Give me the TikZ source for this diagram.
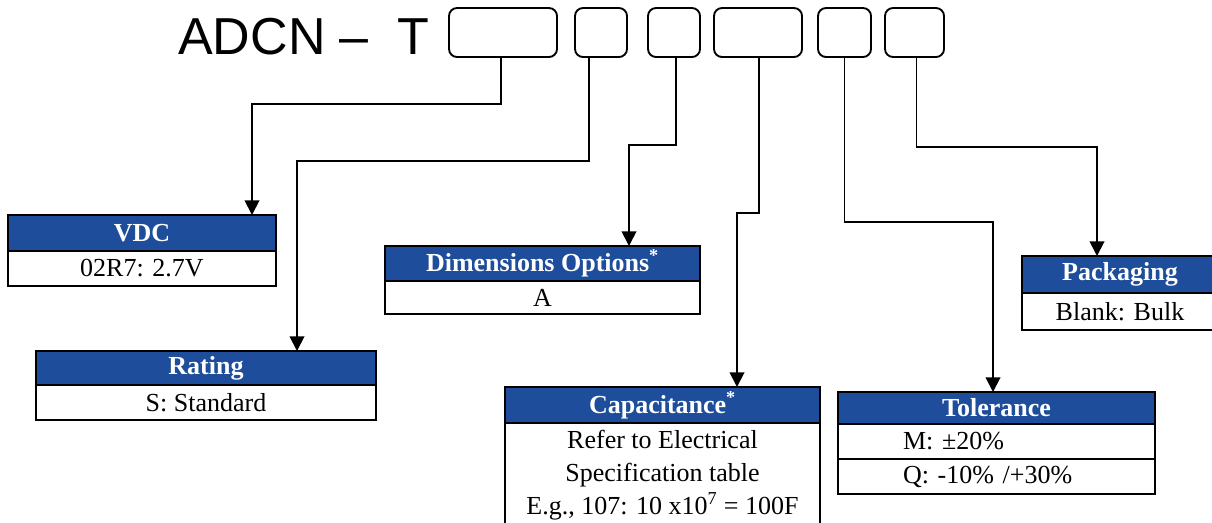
\documentclass[tikz,border=0pt]{standalone}
\usepackage{fontspec}
\setmainfont{Liberation Serif}
\setsansfont{Liberation Sans}
\usepackage{tikz}
\usetikzlibrary{arrows.meta}

\definecolor{hdrblue}{RGB}{30,78,155}

\tikzset{
    slot/.style={draw, line width=1.4pt, rounded corners=6pt, inner sep=0pt, outer sep=0pt},
    hdr/.style={draw, line width=2.1pt, fill=hdrblue, text=white, inner sep=0pt, outer sep=0pt,
        font=\fontsize{19.5}{24}\selectfont\bfseries},
    cell/.style={draw, line width=2.1pt, fill=white, inner sep=0pt, outer sep=0pt,
        font=\fontsize{19.5}{24.75}\selectfont},
    link/.style={line width=1.4pt, -{Triangle[length=11pt,width=11pt]}},
}

\begin{document}
\begin{tikzpicture}[x=0.75pt,y=0.75pt,yscale=-1,xscale=1]
    \useasboundingbox (0,0) rectangle (1212,522);
    % Text Node
    \node [anchor=base west, inner sep=0pt, font=\fontsize{39}{39}\selectfont\sffamily] (title) at (178,54) {ADCN – \ T};
    %Shape: Rounded Rect
    \node [slot, minimum width=81pt, minimum height=36.75pt] (s1) at (503,32.5) {};
    \node [slot, minimum width=39pt, minimum height=36.75pt] (s2) at (601,32.5) {};
    \node [slot, minimum width=39pt, minimum height=36.75pt] (s3) at (674,32.5) {};
    \node [slot, minimum width=66pt, minimum height=36.75pt] (s4) at (758,32.5) {};
    \node [slot, minimum width=39.75pt, minimum height=36.75pt] (s5) at (844.5,32.5) {};
    \node [slot, minimum width=44.25pt, minimum height=36.75pt] (s6) at (914.5,32.5) {};

    %Shape: Table VDC
    \node [hdr, anchor=north west, minimum width=201pt, minimum height=27pt] (vdc) at (8,215) {VDC};
    \node [cell, anchor=north, minimum width=201pt, minimum height=26.25pt] (vdcb) at (vdc.south) {02R7: 2.7V};
    %Shape: Table Rating
    \node [hdr, anchor=north west, minimum width=255pt, minimum height=25.5pt] (rate) at (36,351) {Rating};
    \node [cell, anchor=north, minimum width=255pt, minimum height=26.25pt] (rateb) at (rate.south) {S: Standard};
    %Shape: Table Dimensions
    \node [hdr, anchor=north west, minimum width=236.25pt, minimum height=26.25pt] (dim) at (385,246) {Dimensions Options\textsuperscript{*}};
    \node [cell, anchor=north, minimum width=236.25pt, minimum height=24.75pt] (dimb) at (dim.south) {A};
    %Shape: Table Capacitance
    \node [hdr, anchor=north west, minimum width=236.25pt, minimum height=27pt] (cap) at (505,387) {Capacitance\textsuperscript{*}};
    \node [cell, anchor=north, minimum width=236.25pt, minimum height=78pt, align=center] (capb) at (cap.south)
        {Refer to Electrical\\Specification table\\E.g., 107: 10 x10\textsuperscript{7} = 100F};
    %Shape: Table Tolerance
    \node [hdr, anchor=north west, minimum width=237.75pt, minimum height=24pt] (tol) at (838,392) {Tolerance};
    \node [cell, anchor=north, minimum height=26.25pt, inner xsep=48.75pt, text width=140.25pt, align=left] (tolm) at (tol.south) {M: ±20\%};
    \node [cell, anchor=north, minimum height=26.25pt, inner xsep=48.75pt, text width=140.25pt, align=left] (tolq) at (tolm.south) {Q: -10\% /+30\%};
    %Shape: Table Packaging
    \node [hdr, anchor=north west, minimum width=147pt, minimum height=27.75pt] (pack) at (1022,256) {Packaging};
    \node [cell, anchor=north, minimum width=147pt, minimum height=27.75pt] (packb) at (pack.south) {Blank: Bulk};

    %Straight Lines
    \coordinate (c1) at (252,104);
    \coordinate (c2) at (297,161);
    \coordinate (c3) at (629,145);
    \coordinate (c4) at (737,213);
    \coordinate (c5) at (993,222);
    \coordinate (c6) at (1097,147);
    \draw [link] ([xshift=-1.5pt]s1.south) |- (c1) -- (c1 |- vdc.north);
    \draw [link] ([xshift=-9pt]s2.south) |- (c2) -- (c2 |- rate.north);
    \draw [link] ([xshift=1.5pt]s3.south) |- (c3) -- (c3 |- dim.north);
    \draw [link] ([xshift=0.75pt]s4.south) |- (c4) -- (c4 |- cap.north);
    \draw [link] (s5.south) |- (c5) -- (c5 |- tol.north);
    \draw [link] ([xshift=1.5pt]s6.south) |- (c6) -- (c6 |- pack.north);
\end{tikzpicture}
\end{document}
